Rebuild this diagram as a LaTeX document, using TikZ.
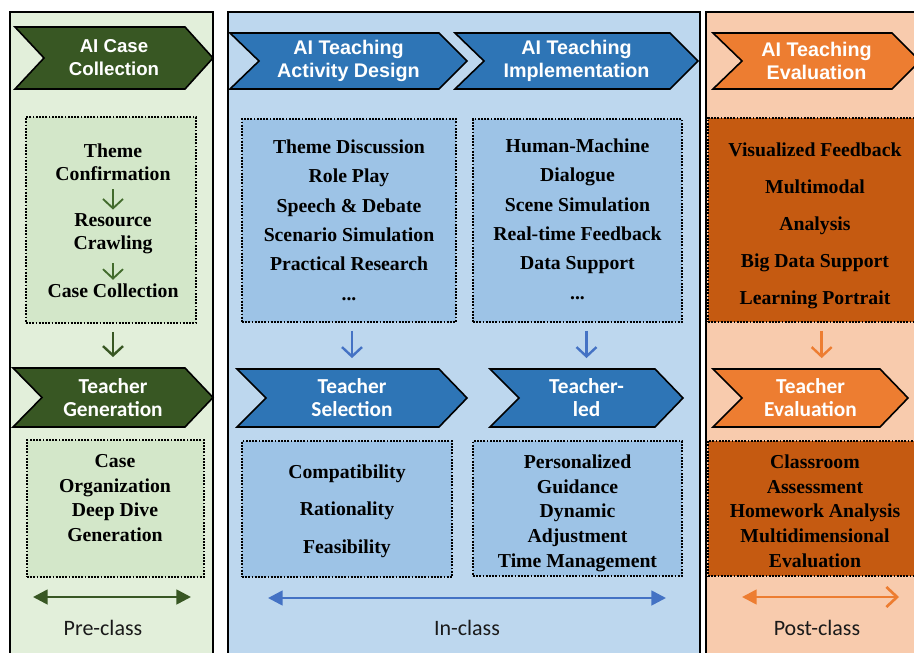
\documentclass[tikz,border=0pt]{standalone}
\usepackage{fontspec}
\setmainfont{Liberation Serif}
\newfontfamily\headfont{Liberation Sans}
\newfontfamily\calfont{Carlito}
\usetikzlibrary{arrows.meta, positioning}

\definecolor{pregreen}{HTML}{E2EFDA}
\definecolor{boxgreen}{HTML}{D3E7C9}
\definecolor{chevgreen}{HTML}{385723}
\definecolor{stepgreen}{HTML}{426B2C}
\definecolor{inblue}{HTML}{BDD7EE}
\definecolor{boxblue}{HTML}{9DC3E6}
\definecolor{chevblue}{HTML}{2E75B6}
\definecolor{arrowblue}{HTML}{4472C4}
\definecolor{postpeach}{HTML}{F8CBAD}
\definecolor{chevorange}{HTML}{ED7D31}
\definecolor{boxorange}{HTML}{C55A11}
\definecolor{labelgray}{HTML}{1A1A1A}

\tikzset{
  dotbox/.style={draw=black, line width=1.4pt, dash pattern=on 1.3pt off 1.1pt, inner sep=0pt},
  boxtext/.style={align=center, inner sep=0pt, font=\fontsize{14.8}{#1}\selectfont\bfseries},
  headtext/.style={font=\headfont\fontsize{#1}{17.25}\selectfont\bfseries},
  headtext/.default=14.8,
  caltext/.style={font=\calfont\fontsize{16}{17.25}\selectfont\bfseries},
  chevtext/.style={align=center, text=white, inner sep=0pt},
  downarrow/.style={->, line width=2pt, shorten <=6pt, shorten >=8pt},
  steparrow/.style={-{Straight Barb[length=7pt,width=15pt,line width=1.4pt]}, line width=1.2pt, draw=stepgreen, shorten <=6.5pt, shorten >=3pt},
  phasearrow/.style={{Triangle[length=11pt,width=11pt]}-{Triangle[length=11pt,width=11pt]}, line width=2pt},
  phaselabel/.style={font=\calfont\fontsize{16.5}{18}\selectfont, text=labelgray}
}

% chevron: name, fill, font style, left, right, top, bottom, text
\newcommand{\chev}[8]{%
  \draw[fill=#2, line width=1.2pt, line join=miter]
    (#4,#6) -- ({#5-28},#6) -- (#5,{(#6+#7)/2}) -- ({#5-28},#7) -- (#4,#7) -- ({#4+29},{(#6+#7)/2}) -- cycle;
  \node[chevtext, #3, minimum height={(#7-#6)*0.75pt}] (#1) at ({(#4+#5)/2},{(#6+#7)/2}) {#8};
}

\begin{document}
\begin{tikzpicture}[x=0.75pt, y=-0.75pt, >={Straight Barb[length=7pt,width=15pt,line width=1.8pt]}]
  \useasboundingbox (0,0) rectangle (914,653);
  \fill[white] (0,0) rectangle (914,653);
  \clip (0,0) rectangle (914,653);

  % phase panels
  \draw[fill=pregreen, line width=1.3pt] (10,12) rectangle (213,670);
  \draw[fill=inblue, line width=1.3pt] (228,12) rectangle (700,670);
  \draw[fill=postpeach, line width=1.3pt] (706,12) rectangle (940,670);

  % pre-class
  \chev{caseai}{chevgreen}{headtext=14}{15}{213}{27}{89}{AI Case\\Collection}
  \node[dotbox, fill=boxgreen, minimum width=127.5pt, minimum height=154.5pt] (casebox) at (111,220) {};
  \node[boxtext=17.25] (theme) at (113,162) {Theme\\Confirmation};
  \node[boxtext=17.25] (crawl) at (113,234) {Resource\\Crawling};
  \node[boxtext=17.25] (collect) at (113,291) {Case Collection};
  \draw[steparrow] (theme) -- (crawl);
  \draw[steparrow] (crawl) -- (collect);

  \chev{gen}{chevgreen}{caltext}{13}{213}{368}{427}{Teacher\\Generation}
  \draw[downarrow, chevgreen] (gen.north |- casebox.south) -- (gen.north);
  \node[dotbox, fill=boxgreen, minimum width=132.75pt, minimum height=102.75pt] (genbox) at (115.5,508.5) {};
  \node[boxtext=18.5] (genlist) at (115,498) {Case\\Organization\\Deep Dive\\Generation};

  \coordinate (preL) at (33,597);
  \coordinate (preR) at (191,597);
  \draw[phasearrow, chevgreen] (preL) -- (preR);
  \node[phaselabel] (prelbl) at (103,628) {Pre-class};

  % in-class
  \chev{design}{chevblue}{headtext}{230}{467}{33}{89}{AI Teaching\\Activity Design}
  \chev{impl}{chevblue}{headtext}{455}{698}{33}{89}{AI Teaching\\Implementation}
  \node[dotbox, fill=boxblue, minimum width=160.5pt, minimum height=152.25pt] (actbox) at (349,220.5) {};
  \node[boxtext=22] (actlist) at (349,220) {Theme Discussion\\Role Play\\Speech \& Debate\\Scenario Simulation\\Practical Research\\...};
  \node[dotbox, fill=boxblue, minimum width=156.75pt, minimum height=152.25pt] (implbox) at (577.5,220.5) {};
  \node[boxtext=22] (impllist) at (577.5,219) {Human-Machine\\Dialogue\\Scene Simulation\\Real-time Feedback\\Data Support\\...};

  \chev{sel}{chevblue}{caltext}{237}{467}{369}{427}{Teacher\\Selection}
  \chev{led}{chevblue}{caltext}{490}{683}{369}{427}{Teacher-\\led}
  \draw[downarrow, arrowblue] (sel.north |- actbox.south) -- (sel.north);
  \draw[downarrow, arrowblue] (led.north |- implbox.south) -- (led.north);

  \node[dotbox, fill=boxblue, minimum width=157.5pt, minimum height=102pt] (selbox) at (347,509) {};
  \node[boxtext=28] (sellist) at (347,511) {Compatibility\\Rationality\\Feasibility};
  \node[dotbox, fill=boxblue, minimum width=156.75pt, minimum height=101.25pt] (ledbox) at (577.5,508.5) {};
  \node[boxtext=18.5] (ledlist) at (577.5,513) {Personalized\\Guidance\\Dynamic\\Adjustment\\Time Management};

  \coordinate (inL) at (268,598);
  \coordinate (inR) at (666,598);
  \draw[phasearrow, arrowblue] (inL) -- (inR);
  \node[phaselabel] (inlbl) at (467,628) {In-class};

  % post-class
  \chev{evalai}{chevorange}{headtext}{713}{920}{33}{89}{AI Teaching\\Evaluation}
  \node[dotbox, fill=boxorange, minimum width=160.5pt, minimum height=153pt] (evalbox) at (815,220) {};
  \node[boxtext=27.75] (evallist) at (815,226) {Visualized Feedback\\Multimodal\\Analysis\\Big Data Support\\Learning Portrait};

  \chev{evalteach}{chevorange}{caltext}{713}{908}{369}{427}{Teacher\\Evaluation}
  \draw[downarrow, chevorange] ([xshift=5pt]evalbox.south) -- ([xshift=5pt]evalbox.south |- evalteach.north);
  \node[dotbox, fill=boxorange, minimum width=160.5pt, minimum height=101.25pt] (teachbox) at (815,508.5) {};
  \node[boxtext=18.5] (teachlist) at (815,511) {Classroom\\Assessment\\Homework Analysis\\Multidimensional\\Evaluation};

  \coordinate (postL) at (742,597);
  \coordinate (postR) at (899,597);
  \draw[{Triangle[length=11pt,width=11pt]}-{Straight Barb[length=8pt,width=15pt,line width=2pt]}, line width=2pt, chevorange] (postL) -- (postR);
  \node[phaselabel] (postlbl) at (817,628) {Post-class};
\end{tikzpicture}
\end{document}
